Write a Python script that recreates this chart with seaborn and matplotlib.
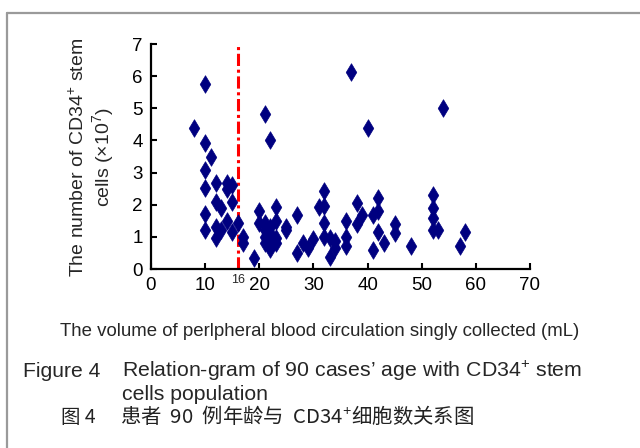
import matplotlib
matplotlib.use("Agg")
import matplotlib.pyplot as plt
from matplotlib.lines import Line2D
import pandas as pd
import seaborn as sns

# --- Data ---
volume_ml = [
    8, 10, 10, 11, 10, 10, 10, 10, 12, 12, 12, 12, 13, 13, 14, 14, 14, 15, 15, 15,
    16, 17, 17, 19, 20, 20, 21, 22, 21, 21, 21, 21, 22, 22, 22, 22, 23, 23, 23, 23,
    25, 25, 27, 27, 28, 29, 30, 31,
    32, 32, 32, 32, 33, 33, 34, 34, 36, 36, 36, 37, 38, 38, 39, 40, 41, 41, 42, 42,
    42, 43, 45, 45, 48, 52, 52, 52, 52, 53, 54, 57, 58,
]
cd34_cells = [
    4.38, 5.75, 3.91, 3.50, 3.08, 2.53, 1.70, 1.21, 2.69, 2.10, 1.32, 0.96, 1.89, 1.21,
    2.69, 2.48, 1.50, 2.62, 2.10, 1.16,
    1.42, 0.99, 0.80, 0.33, 1.82, 1.42, 4.82, 4.02, 1.42, 1.21, 0.99, 0.80, 1.32, 1.11,
    0.90, 0.61, 1.92, 1.50, 0.96, 0.80, 1.32, 1.21, 1.69, 0.51, 0.80, 0.64, 0.93, 1.94,
    2.43, 1.97, 1.42, 1.00, 0.96, 0.38, 0.86, 0.66, 1.50, 0.99, 0.73, 6.13, 2.05, 1.40,
    1.68, 4.40, 1.68, 0.59, 2.20, 1.81, 1.14, 0.80, 1.40, 1.12, 0.73, 2.30, 1.91, 1.58,
    1.21, 1.21, 5.00, 0.73, 1.14,
]
x_ticks = [0, 10, 20, 30, 40, 50, 60, 70]
y_ticks = [0, 1, 2, 3, 4, 5, 6, 7]
cutoff_ml = 16

df = pd.DataFrame({"volume": volume_ml, "cells": cd34_cells})

# --- Style ---
sns.set_style("ticks")
plt.rcParams["font.family"] = ["Liberation Sans", "DejaVu Sans"]
plt.rcParams["mathtext.fontset"] = "custom"
plt.rcParams["mathtext.rm"] = "Liberation Sans"
plt.rcParams["mathtext.it"] = "Liberation Sans:italic"
plt.rcParams["mathtext.default"] = "rm"

W, H = 640, 448
fig = plt.figure(figsize=(W / 100, H / 100), dpi=100)
ax = fig.add_axes([151 / W, 1 - 269 / H, 379 / W, 225 / H])

sns.scatterplot(data=df, x="volume", y="cells", marker="d", s=80,
                color="#000080", edgecolor="#000080", linewidth=0.5,
                ax=ax, zorder=3, legend=False)
ax.axvline(cutoff_ml, color="red", lw=2.2, ls=(0, (4, 1.2, 1, 1.2)), zorder=2)

ax.set_xlim(0, 70)
ax.set_ylim(0, 7)
ax.set_xticks(x_ticks)
ax.set_yticks(y_ticks)
ax.tick_params(direction="in", length=4, width=1.5, labelsize=13.5, colors="black", pad=6)
for side in ["top", "right"]:
    ax.spines[side].set_visible(False)
for side in ["left", "bottom"]:
    ax.spines[side].set_linewidth(1.6)
    ax.spines[side].set_color("black")
ax.set_xlabel("")
ax.set_ylabel("")

# cutoff label below the axis
ax.text(cutoff_ml, -0.14, str(cutoff_ml), ha="center", va="top", fontsize=9)

def px(x, y):
    return x / W, 1 - y / H

# axis titles
fig.text(*px(92, 157), "The number of CD34$^{+}$ stem\ncells ($\\times$10$^{7}$)",
         rotation=90, ha="center", va="center", fontsize=14, linespacing=1.1,
         multialignment="center")
fig.text(*px(320, 336), "The volume of perlpheral blood circulation singly collected (mL)",
         ha="center", va="baseline", fontsize=13.4)

# caption
fig.text(*px(23, 377), "Figure 4", ha="left", va="baseline", fontsize=15.2)
fig.text(*px(122, 377), "Relation-gram of 90 cases\u2019 age with CD34$^{+}$ stem",
         ha="left", va="baseline", fontsize=15.3)
fig.text(*px(122, 400), "cells population", ha="left", va="baseline", fontsize=15.3)
cjk = ["Noto Sans CJK SC", "Liberation Sans"]
fig.text(*px(61, 423), "图 4", ha="left", va="baseline", fontsize=14, family=cjk, color="#222222")
fig.text(*px(120, 423), "患者  90  例年龄与  CD34$^{+}$细胞数关系图", ha="left", va="baseline",
         fontsize=14.7, family=cjk, color="#222222")

# outer frame
fig.add_artist(Line2D([7 / W, 1], [1 - 13 / H, 1 - 13 / H], transform=fig.transFigure,
                      color="#9a9a9a", lw=1.6))
fig.add_artist(Line2D([7 / W, 7 / W], [0, 1 - 13 / H], transform=fig.transFigure,
                      color="#9a9a9a", lw=1.6))

fig.savefig("out.png", dpi=100)
